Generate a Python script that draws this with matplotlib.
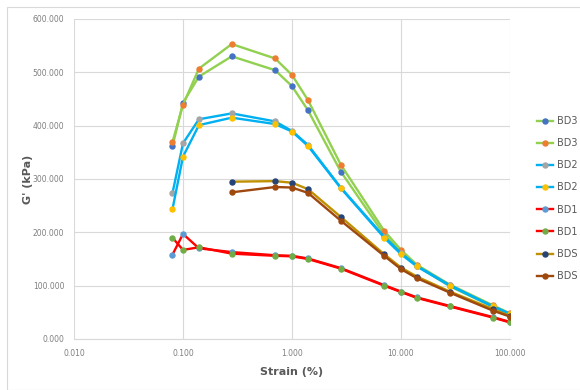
import numpy as np
import matplotlib
matplotlib.use("Agg")
import matplotlib.pyplot as plt
from matplotlib.patches import Rectangle
from matplotlib.ticker import FixedLocator, FuncFormatter

# ── Data ──────────────────────────────────────────────────────────────────────
strain = [0.08, 0.1, 0.14, 0.28, 0.7, 1.0, 1.4, 2.8, 7, 10, 14, 28, 70, 100]
strain_bds = [0.28, 0.7, 1.0, 1.4, 2.8, 7, 10, 14, 28, 70, 100]

bd3_a = [361, 443, 492, 530, 504, 474, 429, 314, 196, 163, 137, 99, 60, 46]
bd3_b = [369, 439, 507, 553, 526, 495, 448, 327, 203, 167, 139, 102, 63, 48]
bd2_a = [273, 367, 412, 423, 408, 390, 364, 284, 192, 161, 137, 101, 61, 47]
bd2_b = [243, 342, 401, 415, 403, 389, 362, 283, 190, 159, 136, 100, 61, 47]
bd1_a = [158, 197, 170, 163, 157, 156, 151, 133, 101, 89, 78, 62, 41, 32]
bd1_b = [190, 167, 172, 160, 156, 155, 150, 132, 100, 88, 77, 61, 40, 31]
bds_a = [295, 296, 293, 281, 229, 159, 134, 117, 89, 56, 43]
bds_b = [275, 285, 284, 274, 222, 156, 131, 114, 87, 53, 42]

labels = ["BD3", "BD3", "BD2", "BD2", "BD1", "BD1", "BDS", "BDS"]

# (x, y, line colour, marker colour)
series = [
    (strain, bd3_a, "#92D050", "#4472C4"),
    (strain, bd3_b, "#92D050", "#ED7D31"),
    (strain, bd2_a, "#00B0F0", "#A5A5A5"),
    (strain, bd2_b, "#00B0F0", "#FFC000"),
    (strain, bd1_a, "#FF0000", "#5B9BD5"),
    (strain, bd1_b, "#FF0000", "#70AD47"),
    (strain_bds, bds_a, "#BF9000", "#264478"),
    (strain_bds, bds_b, "#9E480E", "#9E480E"),
]

# ── Plot ──────────────────────────────────────────────────────────────────────
fig = plt.figure(figsize=(5.8, 3.9), dpi=100)
ax = fig.add_axes([74 / 580, 1 - 339 / 390, (510 - 74) / 580, (339 - 19) / 390])

handles = []
for x, y, lc, mc in series:
    h, = ax.plot(x, y, color=lc, lw=1.7, marker="o", ms=3.6,
                 mfc=mc, mec=mc, zorder=3)
    handles.append(h)

ax.set_xscale("log")
ax.set_xlim(0.01, 100)
ax.set_ylim(0, 600)
ax.xaxis.set_major_locator(FixedLocator([0.01, 0.1, 1, 10, 100]))
ax.xaxis.set_minor_locator(FixedLocator([]))
ax.set_yticks(np.arange(0, 601, 100))
fmt = FuncFormatter(lambda v, _: f"{v:.3f}")
ax.xaxis.set_major_formatter(fmt)
ax.yaxis.set_major_formatter(fmt)

ax.grid(True, color="#D9D9D9", lw=0.8, zorder=0)
ax.set_axisbelow(True)
for side in ["top", "right", "left"]:
    ax.spines[side].set_visible(False)
ax.spines["bottom"].set_color("#D9D9D9")
ax.tick_params(length=0, labelsize=5.5, colors="#7F7F7F", pad=7)

ax.set_xlabel("Strain (%)", fontsize=8, fontweight="bold", color="#595959", labelpad=7)
ax.set_ylabel("G' (kPa)", fontsize=8, fontweight="bold", color="#595959", labelpad=0)

fig.legend(handles, labels, loc="upper left", bbox_to_anchor=(537 / 580, 1 - 116 / 390),
           frameon=False, fontsize=7, labelcolor="#595959", borderpad=0, borderaxespad=0,
           handlelength=1.65, handletextpad=0.45, labelspacing=1.25)

# outer chart border
fig.patches.append(Rectangle((7 / 580, 0), 1, 1 - 7 / 390, transform=fig.transFigure,
                             fill=False, ec="#D9D9D9", lw=0.8))

fig.savefig("out.png", dpi=100)
